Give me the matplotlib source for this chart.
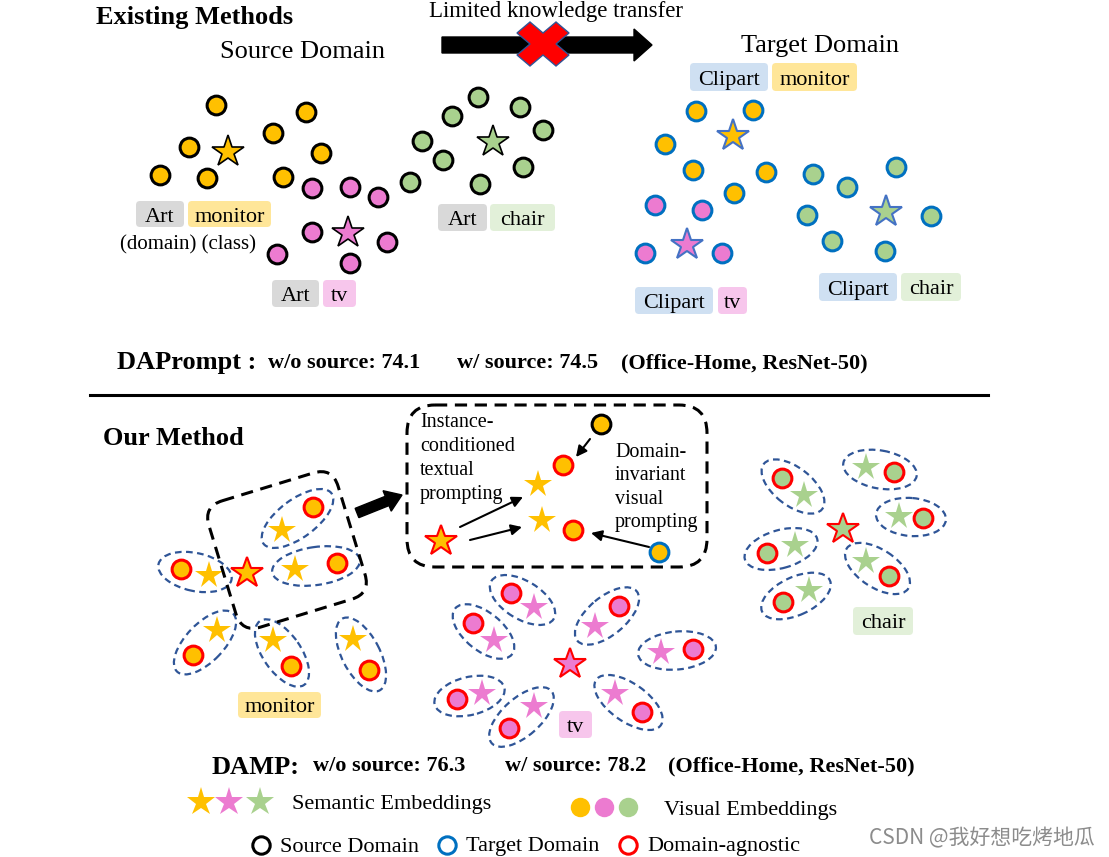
import numpy as np
import matplotlib.pyplot as plt
from matplotlib import patches
from matplotlib.transforms import Affine2D

plt.rcParams['font.family'] = ['Liberation Serif', 'DejaVu Serif']

ORANGE, PINK, GREEN = '#FFC000', '#EC7BD0', '#A9D18E'
BLUE, RED, NAVY = '#0070C0', '#FF0000', '#2F5597'

# ---- data (pixel positions) ----
# existing methods, source domain "Art"
art_monitor = [(216, 105), (189, 147), (160, 175), (207, 178), (306, 112), (273, 133), (321, 153), (283, 177)]
art_monitor_star = (228, 152)
art_tv = [(312, 188), (350, 187), (378, 197), (312, 232), (277, 254), (387, 242), (350, 263)]
art_tv_star = (348, 233)
art_chair = [(478, 97), (452, 116), (520, 107), (543, 130), (422, 141), (443, 160), (410, 182), (523, 167), (480, 184)]
art_chair_star = (493, 142)
# existing methods, target domain "Clipart"
clip_monitor = [(696, 111), (753, 110), (665, 144), (693, 170), (766, 172), (734, 193)]
clip_monitor_star = (733, 136)
clip_tv = [(655, 205), (702, 210), (645, 253), (722, 253)]
clip_tv_star = (687, 245)
clip_chair = [(813, 174), (847, 187), (896, 167), (807, 215), (931, 216), (832, 241), (885, 251)]
clip_chair_star = (886, 212)

# our method: (visual embedding, semantic embedding) pairs around each class prototype
monitor_pairs = [((313, 507), (282, 530)), ((181, 569), (209, 575)), ((337, 563), (295, 569)),
                 ((193, 655), (217, 630)), ((291, 666), (273, 640)), ((369, 670), (353, 639))]
monitor_proto = (247, 573)
tv_pairs = [((511, 593), (534, 607)), ((473, 623), (494, 640)), ((619, 606), (595, 626)),
            ((693, 649), (661, 652)), ((457, 699), (482, 693)), ((509, 728), (534, 706)),
            ((642, 712), (615, 693))]
tv_proto = (570, 664)
chair_pairs = [((782, 478), (804, 495)), ((894, 472), (866, 467)), ((923, 518), (899, 516)),
               ((767, 553), (795, 545)), ((889, 576), (866, 561)), ((783, 602), (809, 590))]
chair_proto = (843, 529)

# zoomed box
zoom_src = (601, 424)
zoom_tgt = (659, 552)
zoom_agnostic = [(563, 465), (573, 530)]
zoom_stars = [(538, 484), (542, 520)]
zoom_proto = (441, 541)
zoom_arrows = [((590, 439), (576, 457)), ((460, 527), (523, 497)),
               ((470, 540), (522, 527)), ((649, 547), (591, 533))]

dap_scores = ['w/o source: 74.1', 'w/ source: 74.5', '(Office-Home, ResNet-50)']
damp_scores = ['w/o source: 76.3', 'w/ source: 78.2', '(Office-Home, ResNet-50)']

fig = plt.figure(figsize=(11.09, 8.57), dpi=100)
ax = fig.add_axes([0, 0, 1, 1])
ax.set_xlim(0, 1109)
ax.set_ylim(857, 0)
ax.axis('off')


def dots(pts, fc, ec, ms=13.5, mew=2.2, z=3):
    pts = np.array(pts, dtype=float).reshape(-1, 2)
    ax.plot(pts[:, 0], pts[:, 1], 'o', ms=ms, mfc=fc, mec=ec, mew=mew, ls='none', zorder=z)


def star(p, fc, ec='none', ms=23, mew=1.2, z=3):
    ax.plot(p[0], p[1], '*', ms=ms, mfc=fc, mec=ec, mew=mew, ls='none', zorder=z)


def label(x, y, s, **kw):
    # va='center' sits a bit high for this font, push it down
    ax.text(x, y + 2, s, va='center', **kw)


def tag(x, y, w, h, fc, s, fs=16):
    ax.add_patch(patches.FancyBboxPatch((x, y), w, h, boxstyle='round,pad=0,rounding_size=4',
                                        fc=fc, ec='none', zorder=1))
    label(x + w / 2, y + h / 2 + 1, s, ha='center', fontsize=fs, zorder=2)


# ---------------- existing methods ----------------
label(96, 15, 'Existing Methods', fontsize=19, fontweight='bold')
label(302, 50, 'Source Domain', fontsize=19, ha='center')
label(820, 44, 'Target Domain', fontsize=19, ha='center')
label(556, 9, 'Limited knowledge transfer', fontsize=16.5, ha='center')

ax.add_patch(patches.FancyArrow(442, 45, 210, 0, width=16, head_width=32, head_length=18,
                                length_includes_head=True, color='black', zorder=2))
xv = np.array([(-1, -2), (0, -1), (1, -2), (2, -1), (1, 0), (2, 1),
               (1, 2), (0, 1), (-1, 2), (-2, 1), (-1, 0), (-2, -1)], dtype=float) / 4
xv[:, 0] = xv[:, 0] * 52 + 543
xv[:, 1] = xv[:, 1] * 44 + 44
ax.add_patch(patches.Polygon(xv, closed=True, fc='#FF0000', ec=NAVY, lw=1, zorder=3))

dots(art_monitor, ORANGE, 'black')
dots(art_tv, PINK, 'black')
dots(art_chair, GREEN, 'black')
star(art_monitor_star, ORANGE, 'black', ms=24)
star(art_tv_star, PINK, 'black', ms=24)
star(art_chair_star, GREEN, 'black', ms=24)

dots(clip_monitor, ORANGE, BLUE)
dots(clip_tv, PINK, BLUE)
dots(clip_chair, GREEN, BLUE)
star(clip_monitor_star, ORANGE, '#4472C4', ms=24, mew=1.5)
star(clip_tv_star, PINK, '#4472C4', ms=24, mew=1.5)
star(clip_chair_star, GREEN, '#4472C4', ms=24, mew=1.5)

tag(136, 201, 48, 26, '#D9D9D9', 'Art')
tag(188, 201, 83, 26, '#FFE699', 'monitor')
label(188, 243, '(domain) (class)', fontsize=15, ha='center')
tag(438, 204, 49, 27, '#D9D9D9', 'Art')
tag(490, 204, 65, 27, '#E2F0D9', 'chair')
tag(272, 280, 47, 27, '#D9D9D9', 'Art')
tag(323, 280, 33, 27, '#F7C6EC', 'tv')
tag(690, 63, 78, 28, '#CFE0F2', 'Clipart')
tag(772, 63, 85, 28, '#FFE699', 'monitor')
tag(635, 287, 78, 27, '#CFE0F2', 'Clipart')
tag(718, 287, 29, 27, '#F7C6EC', 'tv')
tag(819, 273, 78, 28, '#CFE0F2', 'Clipart')
tag(901, 273, 60, 28, '#E2F0D9', 'chair')

label(117, 360, 'DAPrompt :', fontsize=19, fontweight='bold')
for x0, s in zip([268, 457, 621], dap_scores):
    label(x0, 361, s, fontsize=16, fontweight='bold')

ax.plot([90, 988], [395, 395], color='black', lw=2.2)

# ---------------- our method ----------------
label(103, 436, 'Our Method', fontsize=19, fontweight='bold')


def cluster(pairs, proto, color):
    for c, s in pairs:
        c, s = np.array(c, float), np.array(s, float)
        d = c - s
        mid = (c + s) / 2
        ang = np.degrees(np.arctan2(d[1], d[0]))
        ax.add_patch(patches.Ellipse(mid, np.hypot(*d) + 46, 38, angle=ang, fill=False,
                                     ec=NAVY, lw=1.6, ls=(0, (3, 2)), zorder=2))
        star(s, color, ms=20.5)
        dots([c], color, RED)
    star(proto, color, RED, ms=23.5, mew=1.5)


cluster(monitor_pairs, monitor_proto, ORANGE)
cluster(tv_pairs, tv_proto, PINK)
cluster(chair_pairs, chair_proto, GREEN)
tag(238, 692, 83, 26, '#FFE699', 'monitor')
tag(559, 711, 33, 27, '#F7C6EC', 'tv')
tag(853, 607, 60, 28, '#E2F0D9', 'chair')

# rotated dashed box around part of the monitor cluster
cx, cy = 287, 550
ax.add_patch(patches.FancyBboxPatch((cx - 67.5, cy - 66), 135, 132,
                                    boxstyle='round,pad=0,rounding_size=20', fill=False,
                                    ec='black', lw=2.2, ls=(0, (4, 2.5)), zorder=4,
                                    transform=Affine2D().rotate_deg_around(cx, cy, -17) + ax.transData))
ax.add_patch(patches.FancyArrow(357, 513, 45, -18, width=10, head_width=22, head_length=16,
                                length_includes_head=True, color='black', zorder=4))

# zoomed dashed box
ax.add_patch(patches.FancyBboxPatch((407, 405), 300, 162, boxstyle='round,pad=0,rounding_size=28',
                                    fill=False, ec='black', lw=2.2, ls=(0, (4, 2.5)), zorder=2))
ax.text(420, 413, 'Instance-\nconditioned\ntextual\nprompting', fontsize=14.5, va='top',
        linespacing=1.36)
ax.text(615, 443, 'Domain-\ninvariant\nvisual\nprompting', fontsize=14.5, va='top',
        linespacing=1.32)
for s in zoom_stars:
    star(s, ORANGE, ms=20.5)
star(zoom_proto, ORANGE, RED, ms=23.5, mew=1.5)
dots(zoom_agnostic, ORANGE, RED)
dots([zoom_src], ORANGE, 'black')
dots([zoom_tgt], ORANGE, BLUE)
for (x0, y0), (x1, y1) in zoom_arrows:
    ax.annotate('', xy=(x1, y1), xytext=(x0, y0),
                arrowprops=dict(arrowstyle='-|>', color='black', lw=1.5, mutation_scale=16,
                                shrinkA=0, shrinkB=0))

label(212, 765, 'DAMP:', fontsize=19, fontweight='bold')
for x0, s in zip([313, 505, 668], damp_scores):
    label(x0, 764, s, fontsize=16, fontweight='bold')

# legend
for x0, c in zip([201, 229, 260], [ORANGE, PINK, GREEN]):
    star((x0, 802), c, ms=21)
label(292, 803, 'Semantic Embeddings', fontsize=16)
for x0, c in zip([580, 604, 628], [ORANGE, PINK, GREEN]):
    dots([(x0, 807)], c, 'none', ms=14, mew=0)
label(664, 808, 'Visual Embeddings', fontsize=16)
for x0, c, s in zip([261, 447, 628], ['black', BLUE, RED],
                    ['Source Domain', 'Target Domain', 'Domain-agnostic']):
    dots([(x0, 845)], 'none', c, ms=12.5)
    label(x0 + 19, 845, s, fontsize=16)

ax.text(1095, 838, 'CSDN @我好想吃烤地瓜', fontsize=15, color='#8c8c8c', ha='right', va='center',
        family=['Noto Sans CJK SC', 'DejaVu Sans'])

fig.savefig('out.png', dpi=100)
